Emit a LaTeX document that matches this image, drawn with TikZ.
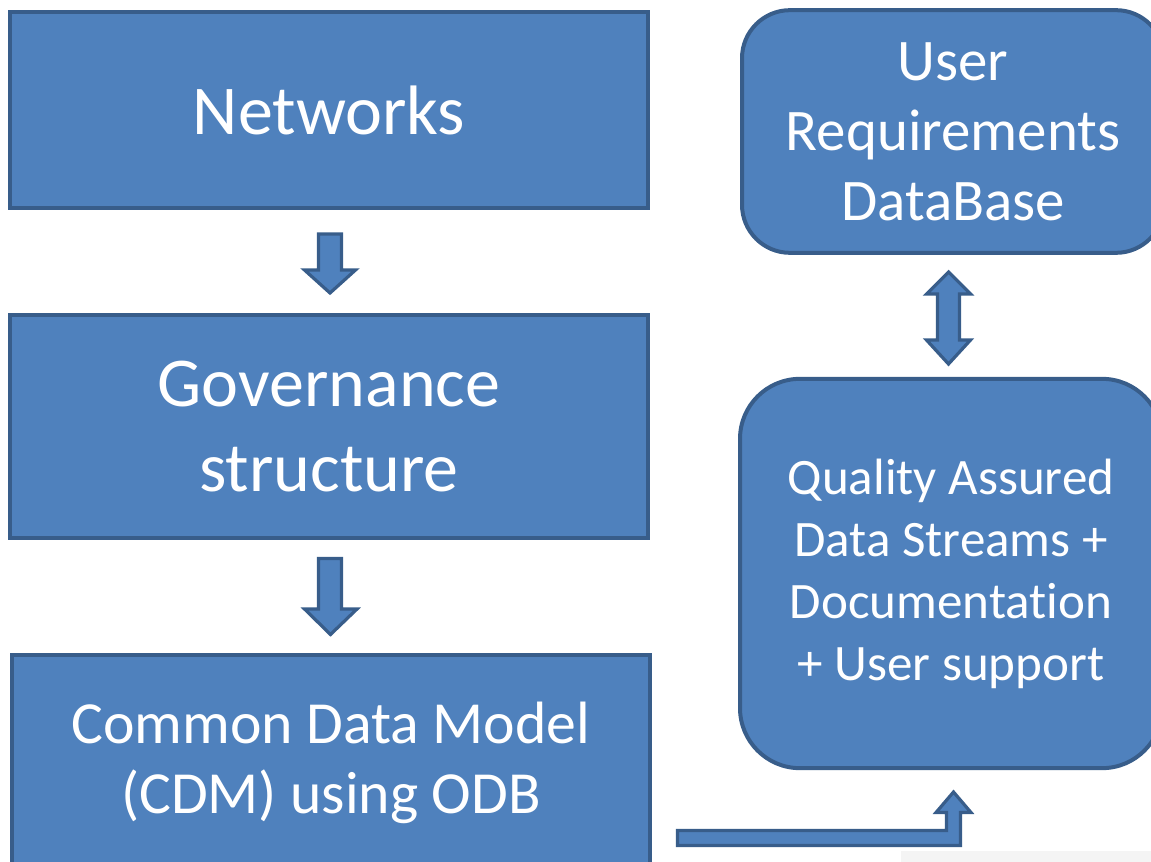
\documentclass[tikz,border=0pt]{standalone}
\usepackage{fontspec}
\setmainfont{Carlito}[Ligatures=NoCommon]
\definecolor{boxfill}{HTML}{4F81BD}
\definecolor{boxline}{HTML}{385D8A}
\definecolor{strip}{HTML}{F4F4F4}
\begin{document}
\begin{tikzpicture}[x=0.75pt,y=-0.75pt,
  box/.style={draw=boxline,fill=boxfill,line width=3pt,text=white,
    align=center,inner sep=0pt},
  roundbox/.style={box,rounded corners=#1},
  blockarrow/.style={draw=boxline,fill=boxfill,line width=2.4pt,line join=miter}]
\useasboundingbox (0,0) rectangle (1151,862);
\clip (0,0) rectangle (1151,862);

% left column
\node[box,minimum width=478.5pt,minimum height=147pt,
  font=\fontsize{52.5}{63}\selectfont] (net) at (329,110) {Networks};
\node[box,minimum width=478.5pt,minimum height=167pt,
  font=\fontsize{52.5}{63.75}\selectfont] (gov) at (329,426.5)
  {Governance\\structure};
\node[box,minimum width=478.5pt,minimum height=161pt,
  font=\fontsize{44.8}{52.5}\selectfont] (cdm) at (331,762.5)
  {Common Data Model\\(CDM) using ODB};

% right column
\node[roundbox=36pt,minimum width=316.5pt,minimum height=182pt,
  font=\fontsize{44.2}{52.5}\selectfont] (urd) at (953,131.5)
  {User\\Requirements\\DataBase};
\node[roundbox=45pt,minimum width=316.5pt,minimum height=292pt,
  font=\fontsize{38.3}{46.5}\selectfont] (qad) at (951,573.5)
  {Quality Assured\\Data Streams +\\Documentation\\+ User support};

% down arrows between the left boxes
\draw[blockarrow] (318.5,234) -- (341.5,234) -- (341.5,270) -- (355.5,270)
  -- (330,293) -- (304.5,270) -- (318.5,270) -- cycle;
\draw[blockarrow] (318.5,558.5) -- (341.5,558.5) -- (341.5,609) -- (357,609)
  -- (330.5,634.5) -- (304.5,609) -- (318.5,609) -- cycle;

% two-way arrow between the right boxes
\draw[blockarrow] (948.5,272) -- (970.5,294) -- (959.5,294) -- (959.5,340)
  -- (970.5,340) -- (948.5,364) -- (926.5,340) -- (937.5,340) -- (937.5,294)
  -- (926.5,294) -- cycle;

% bent arrow from the data model up to the data streams
\draw[blockarrow] (677.5,830.5) -- (946.5,830.5) -- (946.5,812.5)
  -- (936,812.5) -- (953.5,792) -- (971,812.5) -- (960.5,812.5)
  -- (960.5,845.5) -- (677.5,845.5) -- cycle;

% faint band along the lower right edge
\fill[strip] (901,851) rectangle (1151,862);
\end{tikzpicture}
\end{document}
